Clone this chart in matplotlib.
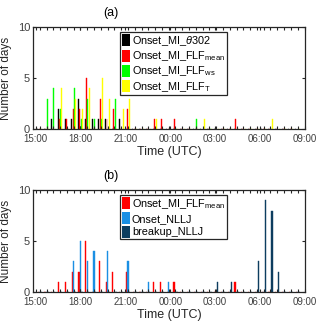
import numpy as np
import matplotlib
matplotlib.use("Agg")
import matplotlib.pyplot as plt
from matplotlib.patches import Patch

plt.rcParams['font.family'] = ['Liberation Sans', 'DejaVu Sans']
plt.rcParams['mathtext.fontset'] = 'custom'
plt.rcParams['mathtext.rm'] = 'Liberation Sans'
plt.rcParams['mathtext.it'] = 'Liberation Sans:italic'

# bins (group index) along the time axis
n_bins = 39
bin_first_hour = 15.284   # centre of first bin (hours, 24+ = next day)
bin_step_hour = 0.4533

tick_hours = [15, 18, 21, 24, 27, 30, 33]
tick_labels = ['15:00', '18:00', '21:00', '00:00', '03:00', '06:00', '09:00']

# panel (a)
onset_theta = [0,0,1,2,1,1,3,1,1,1,1,0,1,0,0,0,0,0,0,0,0,0,0,0,0,0,0,0,0,0,0,0,0,0,0,0,0,0,0]
onset_flf_mean = [0,0,0,1,1,2,2,5,0,3,1,2,0,2,0,0,0,1,1,0,1,0,0,0,0,0,0,0,0,1,0,0,0,0,0,0,0,0,0]
onset_flf_ws = [0,3,4,2,0,4,1,3,1,1,0,3,0,0,0,0,0,0,0,0,0,0,0,1,0,0,0,0,0,0,0,0,0,0,0,0,0,0,0]
onset_flf_t = [0,0,0,4,0,3,2,4,0,5,3,0,2,3,0,0,0,1,0,0,0,0,0,0,1,0,0,0,0,0,0,0,0,0,1,0,0,0,0]

# panel (b)
onset_nllj = [0,0,0,0,0,3,5,3,4,0,4,0,0,3,0,0,1,0,0,1,0,0,0,0,0,0,0,0,0,0,0,0,0,0,0,0,0,0,0]
breakup_nllj = [0,0,0,0,0,0,0,0,0,0,0,0,0,0,0,0,0,0,0,0,0,0,0,0,0,0,1,0,1,0,0,0,3,9,8,2,0,0,0]

labels_a = ['Onset_MI_$\\mathit{\\theta}$302', 'Onset_MI_FLF$_{\\mathregular{mean}}$',
            'Onset_MI_FLF$_{\\mathregular{ws}}$', 'Onset_MI_FLF$_{\\mathregular{T}}$']
colors_a = ['#000000', '#ff0000', '#00ff00', '#ffff00']
labels_b = ['Onset_MI_FLF$_{\\mathregular{mean}}$', 'Onset_NLLJ', 'breakup_NLLJ']
colors_b = ['#ff0000', '#1a8fe3', '#0d3d5f']

centers = bin_first_hour + bin_step_hour * np.arange(n_bins)

fig = plt.figure(figsize=(3.2, 3.26), dpi=100)
axc = '#262626'

def draw(ax, series, colors, labels, title, leg_box):
    ns = len(series)
    gw = min(0.8, ns / (ns + 1.5))
    bw = gw / ns * 0.8 * bin_step_hour
    for i, (vals, c) in enumerate(zip(series, colors)):
        off = (i - (ns - 1) / 2) * gw / ns * bin_step_hour
        ax.bar(centers + off, vals, width=bw, color=c, edgecolor=c, linewidth=0.3)
    ax.set_xlim(14.83, 33.0)
    ax.set_ylim(0, 10)
    ax.set_yticks([0, 5, 10])
    ax.set_xticks(tick_hours)
    ax.set_xticklabels(tick_labels)
    ax.set_xticks(centers, minor=True)
    ax.tick_params(axis='both', which='both', direction='in', top=True, right=True,
                   colors=axc, labelcolor='#404040', width=0.8)
    ax.tick_params(axis='both', which='major', length=2.5)
    ax.tick_params(axis='x', which='major', labelsize=7, pad=3.5)
    ax.tick_params(axis='y', which='major', labelsize=8, pad=2)
    ax.tick_params(axis='x', which='minor', length=2)
    ax.tick_params(axis='y', which='minor', length=0)
    for s in ax.spines.values():
        s.set_color(axc)
        s.set_linewidth(0.9)
    ax.set_ylabel('Number of days', fontsize=8.5, color=axc, labelpad=4)
    ax.set_xlabel('Time (UTC)', fontsize=9, color=axc, labelpad=1.5)
    ax.text(0.287, 1.14, title, transform=ax.transAxes, ha='center', va='center',
            fontsize=9, color='#000000')
    handles = [Patch(facecolor=c, edgecolor='none') for c in colors]
    leg = ax.legend(handles, labels, loc='upper left', bbox_to_anchor=leg_box,
                    fontsize=7.8, frameon=True, fancybox=False, framealpha=1,
                    edgecolor=axc, handlelength=0.8, handleheight=1.3,
                    handletextpad=0.15, borderpad=0.15, labelspacing=0.15,
                    borderaxespad=0)
    leg.get_frame().set_linewidth(0.9)

ax1 = fig.add_axes([0.103, 0.6034, 0.85, 0.313])
draw(ax1, [onset_theta, onset_flf_mean, onset_flf_ws, onset_flf_t], colors_a, labels_a,
     '(a)', (0.32, 0.95))
ax2 = fig.add_axes([0.103, 0.1043, 0.85, 0.312])
draw(ax2, [onset_flf_mean, onset_nllj, breakup_nllj], colors_b, labels_b,
     '(b)', (0.32, 0.95))

fig.savefig('out.png', dpi=100)
